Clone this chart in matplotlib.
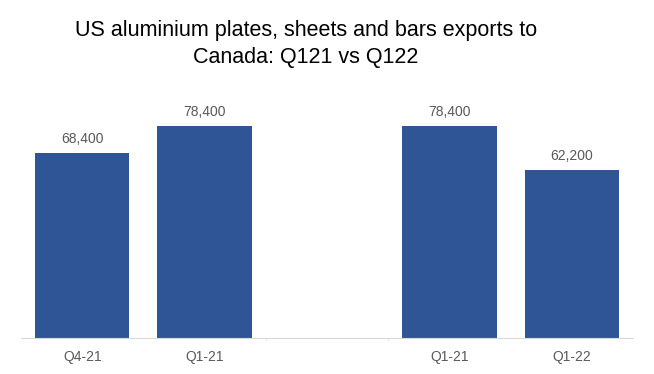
import matplotlib.pyplot as plt
import numpy as np

labels = ["Q4-21", "Q1-21", "", "Q1-21", "Q1-22"]
exports = [68400, 78400, None, 78400, 62200]

plt.rcParams['font.family'] = ['Liberation Sans', 'DejaVu Sans']

fig = plt.figure(figsize=(6.54, 3.74), dpi=100)
ax = fig.add_axes([21 / 654, 1 - 338 / 374, 612 / 654, 243 / 374])

x = np.arange(len(labels))
for xi, v in zip(x, exports):
    if v is None:
        continue
    ax.bar(xi, v, width=0.77, color='#2F5597')
    ax.text(xi, v + 2600, f"{v:,}", ha='center', va='bottom', fontsize=10, color='#595959')

ax.set_xlim(-0.5, len(labels) - 0.5)
ax.set_ylim(0, 90000)
ax.set_xticks(x)
ax.set_xticklabels(labels, fontsize=10, color='#595959')
ax.tick_params(axis='x', length=0, pad=9)
ax.set_xticks([1.5, 2.5], minor=True)
ax.tick_params(axis='x', which='minor', length=2, color='#E3E3E3')
ax.set_yticks([])
for s in ['top', 'right', 'left']:
    ax.spines[s].set_visible(False)
ax.spines['bottom'].set_color('#D9D9D9')

fig.text(306 / 654, 1 - 44 / 374, "US aluminium plates, sheets and bars exports to\nCanada: Q121 vs Q122",
         ha='center', va='center', fontsize=15.5, linespacing=1.4, color='black')

fig.savefig('out.png', dpi=100)
